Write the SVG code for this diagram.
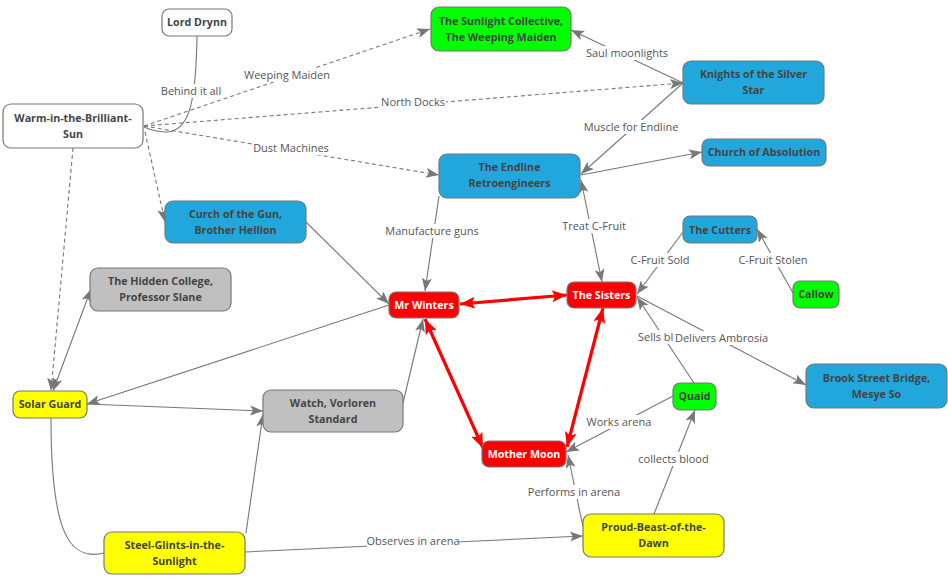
<svg xmlns="http://www.w3.org/2000/svg" width="948" height="581" viewBox="0 0 948 581">
<defs>
<marker id="arr" markerUnits="userSpaceOnUse" markerWidth="14" markerHeight="10" refX="13" refY="5" orient="auto-start-reverse" viewBox="0 0 14 10">
<path d="M0,0 L13,5 L0,10 L3,5 z" fill="#777"/>
</marker>
<marker id="rarr" markerUnits="userSpaceOnUse" markerWidth="16" markerHeight="12" refX="15" refY="6" orient="auto-start-reverse" viewBox="0 0 16 12">
<path d="M0,0 L15,6 L0,12 L3,6 z" fill="#f00"/>
</marker>
<style>
.e{fill:none;stroke:#777;stroke-width:1.1}
.d{stroke-dasharray:4,3}
.r{fill:none;stroke:#f00;stroke-width:3.2}
.n rect{stroke:#777;stroke-width:1.2}
.n text{font-family:"Open Sans","Noto Sans","Liberation Sans",sans-serif;font-weight:bold;font-size:10.7px;fill:#444;text-anchor:middle}
.n.red text{fill:#fff}
.lb rect{fill:#fff}
.lb text{font-family:"Open Sans","Noto Sans","Liberation Sans",sans-serif;font-size:11px;fill:#555;text-anchor:middle}
.w{fill:#fff}.b{fill:#22a7dd}.g{fill:#00ff00}.y{fill:#ffff00}.gr{fill:#c0c0c0}.rd{fill:#ff0000}
</style>
</defs>
<rect width="948" height="581" fill="#fff"/>
<g id="connectors">
<path class="e" d="M197,36 C196,100 190,133 165,132 Q152,131 144,127"/>
<path class="e d" d="M144,126 L430,29" marker-end="url(#arr)"/>
<path class="e d" d="M144,126 L683,83" marker-end="url(#arr)"/>
<path class="e d" d="M144,126 L439,175" marker-end="url(#arr)"/>
<path class="e d" d="M145,132 L165,222" marker-end="url(#arr)"/>
<path class="e d" d="M73,148 L51,391" marker-end="url(#arr)"/>
<path class="e" d="M53,391 L91,289" marker-start="url(#arr)" marker-end="url(#arr)"/>
<path class="e" d="M389,305 L87,404" marker-end="url(#arr)"/>
<path class="e" d="M87,404 L263,411" marker-end="url(#arr)"/>
<path class="e" d="M51,418 C51,530 68,562 104,553"/>
<path class="e" d="M246,533 L263,414" marker-end="url(#arr)"/>
<path class="e" d="M403,403 L423,319" marker-end="url(#arr)"/>
<path class="e" d="M306,222 L389,304" marker-end="url(#arr)"/>
<path class="e" d="M439,196 L425,291" marker-end="url(#arr)"/>
<path class="e" d="M581,180 L602,282" marker-start="url(#arr)" marker-end="url(#arr)"/>
<path class="e" d="M683,83 L571,30" marker-end="url(#arr)"/>
<path class="e" d="M683,83 L581,174" marker-end="url(#arr)"/>
<path class="e" d="M581,175 L702,152" marker-end="url(#arr)"/>
<path class="r" d="M460,304 L567,295" marker-start="url(#rarr)" marker-end="url(#rarr)"/>
<path class="r" d="M425,319 L483,448" marker-start="url(#rarr)" marker-end="url(#rarr)"/>
<path class="r" d="M603,308 L567,447" marker-start="url(#rarr)" marker-end="url(#rarr)"/>
<path class="e" d="M683,232 L637,294" marker-end="url(#arr)"/>
<path class="e" d="M793,293 L757,229" marker-end="url(#arr)"/>
<path class="e" d="M694,383 L637,297" marker-end="url(#arr)"/>
<path class="e" d="M637,296 L806,385" marker-end="url(#arr)"/>
<path class="e" d="M673,396 L566,452" marker-end="url(#arr)"/>
<path class="e" d="M654,514 L695,410" marker-end="url(#arr)"/>
<path class="e" d="M583,527 L568,455" marker-end="url(#arr)"/>
<path class="e" d="M245,552 L583,536" marker-end="url(#arr)"/>
<g class="lb">
<rect x="161" y="84" width="60" height="14"/><text x="191" y="95">Behind it all</text>
<rect x="244" y="68" width="86" height="14"/><text x="287" y="79">Weeping Maiden</text>
<rect x="380" y="95" width="66" height="14"/><text x="413" y="106">North Docks</text>
<rect x="253" y="141" width="76" height="14"/><text x="291" y="152">Dust Machines</text>
<rect x="585" y="46" width="84" height="14"/><text x="627" y="57">Saul moonlights</text>
<rect x="583" y="120" width="96" height="14"/><text x="631" y="131">Muscle for Endline</text>
<rect x="385" y="224" width="94" height="14"/><text x="432" y="235">Manufacture guns</text>
<rect x="559" y="219" width="70" height="14"/><text x="594" y="230">Treat C-Fruit</text>
<rect x="629" y="253" width="62" height="14"/><text x="660" y="264">C-Fruit Sold</text>
<rect x="738" y="253" width="70" height="14"/><text x="773" y="264">C-Fruit Stolen</text>
<rect x="637" y="330" width="38" height="14"/><text x="638" y="341" style="text-anchor:start">Sells bl</text>
<rect x="676" y="331" width="91" height="14"/><text x="721.5" y="342">Delivers Ambrosia</text>
<rect x="587" y="415" width="64" height="14"/><text x="619" y="426">Works arena</text>
<rect x="639" y="452" width="69" height="14"/><text x="673.5" y="463">collects blood</text>
<rect x="528" y="485" width="92" height="14"/><text x="574" y="496">Performs in arena</text>
<rect x="367" y="534" width="92" height="14"/><text x="413" y="545">Observes in arena</text>
</g>
</g>
<g id="lord-drynn" class="n"><rect class="w" x="162" y="9" width="70" height="27" rx="7"/><text x="197" y="26">Lord Drynn</text></g>
<g id="warm" class="n"><rect class="w" x="3" y="104" width="140" height="44" rx="8"/><text x="73" y="122">Warm-in-the-Brilliant-</text><text x="73" y="138">Sun</text></g>
<g id="sunlight" class="n"><rect class="g" x="431" y="7" width="140" height="44" rx="8"/><text x="501" y="25">The Sunlight Collective,</text><text x="501" y="41">The Weeping Maiden</text></g>
<g id="knights" class="n"><rect class="b" x="683" y="61" width="141" height="43" rx="8"/><text x="753.5" y="78">Knights of the Silver</text><text x="753.5" y="94">Star</text></g>
<g id="church" class="n"><rect class="b" x="702" y="139" width="124" height="27" rx="7"/><text x="764" y="156">Church of Absolution</text></g>
<g id="endline" class="n"><rect class="b" x="439" y="154" width="141" height="44" rx="8"/><text x="509.5" y="171">The Endline</text><text x="509.5" y="187">Retroengineers</text></g>
<g id="curch" class="n"><rect class="b" x="165" y="201" width="141" height="42" rx="8"/><text x="235.5" y="218">Curch of the Gun,</text><text x="235.5" y="234">Brother Hellion</text></g>
<g id="hidden-college" class="n"><rect class="gr" x="90" y="268" width="141" height="43" rx="8"/><text x="160.5" y="285">The Hidden College,</text><text x="160.5" y="301">Professor Slane</text></g>
<g id="solar-guard" class="n"><rect class="y" x="13" y="391" width="74" height="27" rx="7"/><text x="50" y="408">Solar Guard</text></g>
<g id="watch" class="n"><rect class="gr" x="263" y="390" width="140" height="42" rx="8"/><text x="333" y="407">Watch, Vorloren</text><text x="333" y="423">Standard</text></g>
<g id="mr-winters" class="n red"><rect class="rd" x="389" y="292" width="70" height="26" rx="7"/><text x="424" y="309">Mr Winters</text></g>
<g id="sisters" class="n red"><rect class="rd" x="567" y="282" width="69" height="26" rx="7"/><text x="601.5" y="299">The Sisters</text></g>
<g id="mother-moon" class="n red"><rect class="rd" x="482" y="441" width="84" height="26" rx="7"/><text x="524" y="458">Mother Moon</text></g>
<g id="cutters" class="n"><rect class="b" x="683" y="216" width="74" height="27" rx="7"/><text x="720" y="234">The Cutters</text></g>
<g id="callow" class="n"><rect class="g" x="793" y="281" width="46" height="27" rx="7"/><text x="816" y="298">Callow</text></g>
<g id="quaid" class="n"><rect class="g" x="673" y="383" width="43" height="27" rx="7"/><text x="694.5" y="400">Quaid</text></g>
<g id="brook" class="n"><rect class="b" x="806" y="364" width="141" height="44" rx="8"/><text x="876.5" y="382">Brook Street Bridge,</text><text x="876.5" y="398">Mesye So</text></g>
<g id="steel-glints" class="n"><rect class="y" x="104" y="532" width="141" height="42" rx="8"/><text x="174.5" y="549">Steel-Glints-in-the-</text><text x="174.5" y="565">Sunlight</text></g>
<g id="proud-beast" class="n"><rect class="y" x="583" y="514" width="141" height="43" rx="8"/><text x="653.5" y="531">Proud-Beast-of-the-</text><text x="653.5" y="547">Dawn</text></g>
</svg>
